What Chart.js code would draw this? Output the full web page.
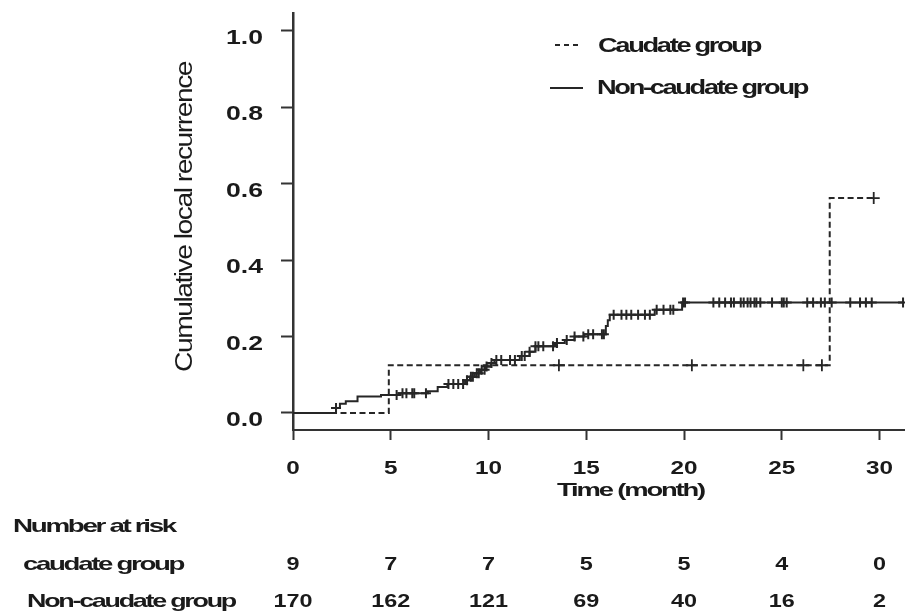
<!DOCTYPE html>
<html>
<head>
<meta charset="utf-8">
<title>Cumulative local recurrence</title>
<script src="https://cdn.jsdelivr.net/npm/chart.js@4.4.0/dist/chart.umd.min.js"></script>
<style>
  html, body { margin: 0; padding: 0; background: #fff; }
  canvas { display: block; }
</style>
</head>
<body>
<canvas id="km" width="905" height="612"></canvas>
<script>
// number at risk table
const riskTimes = [0, 5, 10, 15, 20, 25, 30];
const caudateAtRisk = [9, 7, 7, 5, 5, 4, 0];
const nonCaudateAtRisk = [170, 162, 121, 69, 40, 16, 2];

// caudate group curve (step points) and censored times
const caudateTimes = [0, 4.9, 27.45, 29.7];
const caudateValues = [0, 0.125, 0.5625, 0.5625];
const caudateCensored = [13.6, 20.4, 26.1, 27.05, 29.7];

// non-caudate group curve (step points) and censored times
const nonCaudateTimes = [0, 2.2, 2.4, 2.7, 3.3, 4.5, 5.4, 6.9, 7.4, 7.9, 8.8, 9.05, 9.3, 9.57, 9.85,
  10.1, 10.3, 11.6, 12.1, 12.4, 13.4, 13.9, 14.4, 14.9, 16.0, 16.1, 16.2, 18.5, 19.9, 31.2];
const nonCaudateValues = [0, 0.013, 0.024, 0.031, 0.043, 0.047, 0.052, 0.057, 0.068, 0.076, 0.086, 0.095, 0.104, 0.113, 0.122,
  0.131, 0.139, 0.149, 0.160, 0.175, 0.183, 0.191, 0.200, 0.206, 0.228, 0.243, 0.257, 0.270, 0.289, 0.289];
const nonCaudateCensored = [2.2, 5.3, 5.6, 5.8, 6.1, 6.2, 6.8, 7.95, 8.2, 8.45, 8.7, 8.9, 9.1, 9.2, 9.4, 9.5,
  9.65, 9.8, 9.9, 10.15, 10.4, 10.65, 11.1, 11.35, 11.7, 11.85, 12.1, 12.4, 12.55, 12.8, 13.3, 13.5,
  14.0, 14.4, 14.85, 15.1, 15.35, 15.8, 15.9, 16.4, 16.8, 17.05, 17.3, 17.65, 18.0, 18.25, 18.6, 18.95,
  19.3, 19.45, 19.95, 20.05, 21.5, 21.8, 22.1, 22.4, 22.55, 22.9, 23.05, 23.25, 23.4, 23.6, 23.7, 23.9,
  24.5, 25.0, 25.1, 25.25, 26.3, 26.6, 27.0, 27.2, 27.55, 28.5, 29.0, 29.3, 29.6, 31.2];

const ink = '#262626';
const fontFamily = '"Liberation Sans", Arial, sans-serif';

// value of a step curve at time t
function stepValue(times, values, t) {
  let v = values[0];
  for (let i = 0; i < times.length; i++) {
    if (times[i] <= t) v = values[i];
  }
  return v;
}

function toPoints(times, values) {
  return times.map((t, i) => ({ x: t, y: values[i] }));
}

function censorPoints(censored, times, values) {
  return censored.map(t => ({ x: t, y: stepValue(times, values, t) }));
}

// draw text stretched horizontally to a given width, with tight letters
function fitText(ctx, text, x, y, font, width, align, spacing) {
  ctx.save();
  ctx.font = font;
  ctx.letterSpacing = (spacing || 0) + 'px';
  const sx = width / ctx.measureText(text).width;
  ctx.translate(x, y);
  ctx.scale(sx, 1);
  ctx.textAlign = align || 'left';
  ctx.textBaseline = 'alphabetic';
  ctx.fillText(text, 0, 0);
  ctx.restore();
}

function wideText(ctx, text, x, y, font, sx, align) {
  ctx.save();
  ctx.font = font;
  ctx.translate(x, y);
  ctx.scale(sx, 1);
  ctx.textAlign = align || 'center';
  ctx.textBaseline = 'alphabetic';
  ctx.fillText(text, 0, 0);
  ctx.restore();
}

const textPlugin = {
  id: 'kmText',
  afterDraw(chart) {
    const ctx = chart.ctx;
    const xs = chart.scales.x;
    const ys = chart.scales.y;
    ctx.save();
    ctx.fillStyle = '#1a1a1a';

    // tick labels
    xs.ticks.forEach(tk => {
      wideText(ctx, String(tk.value), xs.getPixelForValue(tk.value), 474, 'bold 18px ' + fontFamily, 1.35, 'center');
    });
    ys.ticks.forEach(tk => {
      wideText(ctx, tk.value.toFixed(1), 263, ys.getPixelForValue(tk.value) + 13, 'bold 20px ' + fontFamily, 1.33, 'right');
    });

    // axis titles
    fitText(ctx, 'Time (month)', 557, 496, 'bold 19px ' + fontFamily, 147, 'left', -1.5);
    ctx.save();
    ctx.translate(192, 217);
    ctx.rotate(-Math.PI / 2);
    fitText(ctx, 'Cumulative local recurrence', 0, 0, '23px ' + fontFamily, 310, 'center', -1.2);
    ctx.restore();

    // legend
    ctx.strokeStyle = ink;
    ctx.lineWidth = 2;
    ctx.setLineDash([5, 4]);
    ctx.beginPath();
    ctx.moveTo(555, 45);
    ctx.lineTo(581, 45);
    ctx.stroke();
    ctx.setLineDash([]);
    ctx.beginPath();
    ctx.moveTo(550, 88);
    ctx.lineTo(583, 88);
    ctx.stroke();
    fitText(ctx, 'Caudate group', 598, 52, 'bold 21px ' + fontFamily, 162, 'left', -1.8);
    fitText(ctx, 'Non-caudate group', 597, 94, 'bold 21px ' + fontFamily, 210, 'left', -1.8);

    // number at risk table
    fitText(ctx, 'Number at risk', 13, 532, 'bold 19px ' + fontFamily, 162, 'left', -1.6);
    fitText(ctx, 'caudate group', 23, 570, 'bold 19px ' + fontFamily, 160, 'left', -1.6);
    fitText(ctx, 'Non-caudate group', 27, 607, 'bold 19px ' + fontFamily, 208, 'left', -1.6);
    riskTimes.forEach((t, i) => {
      const px = xs.getPixelForValue(t);
      wideText(ctx, String(caudateAtRisk[i]), px, 570, 'bold 18px ' + fontFamily, 1.3, 'center');
      wideText(ctx, String(nonCaudateAtRisk[i]), px, 607, 'bold 18px ' + fontFamily, 1.3, 'center');
    });
    ctx.restore();
  }
};

const ctx = document.getElementById('km').getContext('2d');
new Chart(ctx, {
  type: 'line',
  data: {
    datasets: [
      {
        label: 'Caudate group',
        data: toPoints(caudateTimes, caudateValues),
        stepped: true,
        borderColor: ink,
        borderWidth: 2,
        borderDash: [6, 3.5],
        pointRadius: 0,
        fill: false
      },
      {
        label: 'Non-caudate group',
        data: toPoints(nonCaudateTimes, nonCaudateValues),
        stepped: true,
        borderColor: ink,
        borderWidth: 2,
        pointRadius: 0,
        fill: false
      },
      {
        label: 'Caudate censored',
        data: censorPoints(caudateCensored, caudateTimes, caudateValues),
        showLine: false,
        pointStyle: 'cross',
        pointRadius: 6,
        pointBorderColor: ink,
        pointBorderWidth: 1.8
      },
      {
        label: 'Non-caudate censored',
        data: censorPoints(nonCaudateCensored, nonCaudateTimes, nonCaudateValues),
        showLine: false,
        pointStyle: 'cross',
        pointRadius: 5,
        pointBorderColor: ink,
        pointBorderWidth: 2
      }
    ]
  },
  options: {
    responsive: false,
    animation: false,
    layout: { autoPadding: false, padding: { left: 281, top: 13, right: 0, bottom: 172 } },
    plugins: {
      legend: { display: false },
      tooltip: { enabled: false }
    },
    scales: {
      x: {
        type: 'linear',
        min: 0,
        max: 31.3,
        ticks: { display: false, stepSize: 5, includeBounds: false },
        grid: { drawOnChartArea: false, drawTicks: true, tickLength: 10, tickWidth: 2, tickColor: '#333' },
        border: { display: true, width: 2, color: '#333' }
      },
      y: {
        type: 'linear',
        min: -0.0445,
        max: 1.047,
        ticks: { display: false, stepSize: 0.2, includeBounds: false },
        grid: { drawOnChartArea: false, drawTicks: true, tickLength: 12, tickWidth: 2, tickColor: '#333' },
        border: { display: true, width: 2.5, color: '#333' }
      }
    }
  },
  plugins: [textPlugin]
});
</script>
</body>
</html>
